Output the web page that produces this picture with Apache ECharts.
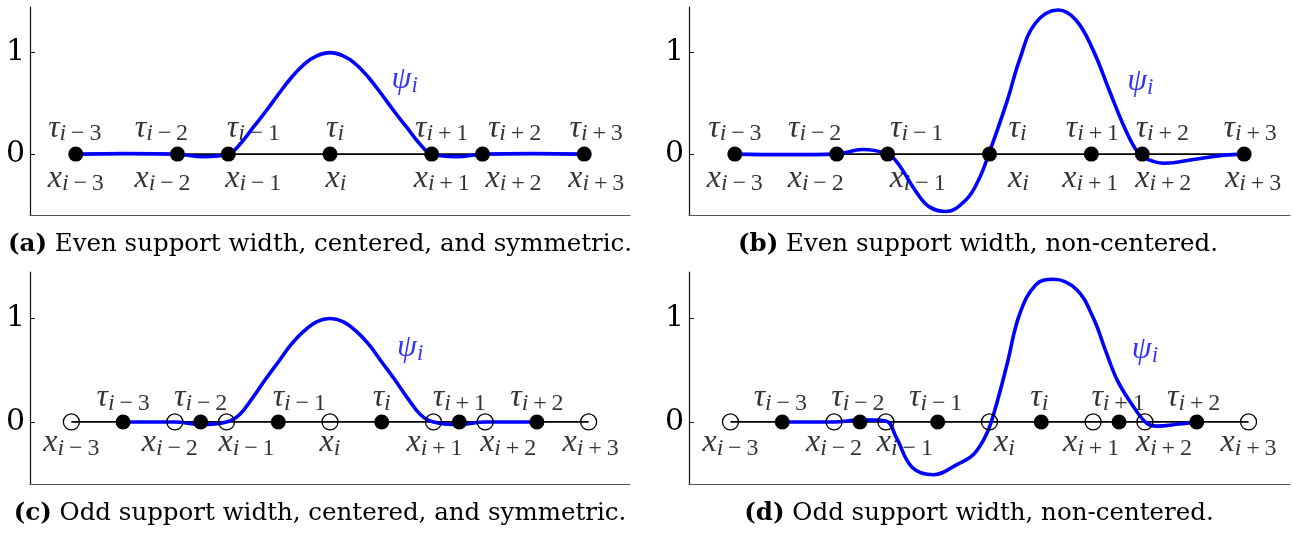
<!DOCTYPE html>
<html>
<head>
<meta charset="utf-8">
<script src="https://cdn.jsdelivr.net/npm/echarts@6/dist/echarts.min.js"></script>
<style>html,body{margin:0;padding:0;background:#fff;}#c{width:1293px;height:535px;}</style>
</head>
<body>
<div id="c"></div>
<script>
// ---- data ----
const knotX = [-5, -3, -2, 0, 2, 3, 5];             // x_{i-3} .. x_{i+3}
const evenTau = [-5, -3, -2, 0, 2, 3, 5];           // tau_{i-3} .. tau_{i+3} (even: at knots)
const oddTau = [-4, -2.5, -1, 1, 2.5, 4];           // tau_{i-3} .. tau_{i+2} (odd: midpoints)
const xSubs = ['i−3', 'i−2', 'i−1', 'i', 'i+1', 'i+2', 'i+3'];
const tauSubsEven = ['i−3', 'i−2', 'i−1', 'i', 'i+1', 'i+2', 'i+3'];
const tauSubsOdd = ['i−3', 'i−2', 'i−1', 'i', 'i+1', 'i+2'];
const yTicks = [0, 1];

const psiA = [[-5,0],[-4,0.005],[-3,0],[-2.5,-0.025],[-2,0],[-1.75,0.11],[-1.5,0.27],[-1.25,0.43],[-1,0.6],[-0.75,0.76],[-0.5,0.89],[-0.25,0.97],[0,1],[0.25,0.97],[0.5,0.89],[0.75,0.76],[1,0.6],[1.25,0.43],[1.5,0.27],[1.75,0.11],[2,0],[2.5,-0.025],[3,0],[4,0.005],[5,0]];
const psiB = [[-5,0],[-4,-0.005],[-3,0],[-2.5,0.045],[-2,0],[-1.8,-0.09],[-1.43,-0.38],[-1.18,-0.52],[-0.86,-0.565],[-0.46,-0.45],[-0.21,-0.25],[0,0.02],[0.35,0.53],[0.59,0.93],[0.9,1.29],[1.35,1.42],[1.7,1.32],[2.03,1.03],[2.35,0.63],[2.67,0.24],[2.92,0.01],[3.1,-0.05],[3.43,-0.09],[4.04,-0.05],[4.6,-0.01],[5,0]];
const psiC = [[-4,0],[-3.5,0],[-3,0],[-2.5,-0.025],[-2,0],[-1.75,0.07],[-1.5,0.23],[-1.25,0.41],[-1,0.58],[-0.75,0.75],[-0.5,0.88],[-0.25,0.97],[0,1],[0.25,0.97],[0.5,0.88],[0.75,0.75],[1,0.58],[1.25,0.41],[1.5,0.23],[1.75,0.07],[2,0],[2.5,-0.025],[3,0],[3.5,0],[4,0]];
const psiD = [[-4,0],[-3.5,0],[-3,0],[-2.5,0.02],[-2,0.01],[-1.8,-0.15],[-1.49,-0.44],[-1.08,-0.51],[-0.62,-0.41],[-0.3,-0.31],[-0.06,-0.12],[0.1,0.11],[0.34,0.56],[0.58,1.04],[0.9,1.33],[1.24,1.38],[1.68,1.28],[2.0,1.01],[2.24,0.69],[2.47,0.40],[2.79,0.14],[3.03,-0.01],[3.23,-0.04],[3.66,-0.02],[4,0]];

const captions = [
  ['(a)', ' Even support width, centered, and symmetric.'],
  ['(b)', ' Even support width, non-centered.'],
  ['(c)', ' Odd support width, centered, and symmetric.'],
  ['(d)', ' Odd support width, non-centered.']
];

// ---- layout (pixels / placement, not data) ----
const grids = [
  {left: 30, top: 7, width: 600, height: 208, xr: 5.9},
  {left: 689, top: 7, width: 601, height: 208, xr: 5.9},
  {left: 30, top: 272, width: 600, height: 212, xr: 5.8},
  {left: 689, top: 272, width: 601, height: 212, xr: 5.8}
];
const tauShift = [[-1,-16,25,5,10,32,12],[0,-22,29,28,1,20,6],[0,0,21,0,0,0],[-2,-2,-2,-2,-1,-3]];
const xShift = [[0,-15,25,6,10,31,12],[0,-21,30,29,-1,21,9],[0,-5,20,0,1,23,2],[0,0,19,15,-2,19,0]];
const tauDy = [-26, -26, -24, -24];
const xDy = [24, 24, 21, 21];
const psiPos = [[1.47,0.73],[2.96,0.71],[1.55,0.72],[3.0,0.70]];
const captionPos = [[320,245],[978,245],[320,514],[979,514]];

const SERIF = 'DejaVu Serif';
const MATH = 'Liberation Serif';
const rich = {
  m: {fontFamily: MATH, fontStyle: 'italic', fontSize: 32, color: '#000'},
  si: {fontFamily: MATH, fontStyle: 'italic', fontSize: 24, color: '#000', padding: [12,0,0,0]},
  sn: {fontFamily: MATH, fontSize: 24, color: '#000', padding: [12,0,0,0]},
  pm: {fontFamily: MATH, fontStyle: 'italic', fontSize: 32, color: '#0000ff'},
  ps: {fontFamily: MATH, fontStyle: 'italic', fontSize: 23, color: '#0000ff', padding: [12,0,0,0]}
};
function subText(s) {
  if (s === 'i') return '{si|i}';
  return '{si|i}{sn|\u2009' + s.slice(1, 2) + '\u2009' + s.slice(2) + '}';
}

const panels = [
  {psi: psiA, tau: evenTau, tauSubs: tauSubsEven, open: false},
  {psi: psiB, tau: evenTau, tauSubs: tauSubsEven, open: false},
  {psi: psiC, tau: oddTau, tauSubs: tauSubsOdd, open: true},
  {psi: psiD, tau: oddTau, tauSubs: tauSubsOdd, open: true}
];

const option = {
  animation: false,
  grid: [], xAxis: [], yAxis: [], series: [], graphic: []
};

panels.forEach((p, g) => {
  const G = grids[g];
  option.grid.push({left: G.left, top: G.top, width: G.width, height: G.height, containLabel: false});
  option.xAxis.push({
    type: 'value', gridIndex: g, min: -G.xr, max: G.xr,
    axisLine: {show: true, onZero: false, lineStyle: {color: '#555', width: 1.2}},
    axisTick: {show: false}, axisLabel: {show: false}, splitLine: {show: false}
  });
  option.yAxis.push({
    type: 'value', gridIndex: g, min: -0.6, max: 1.45,
    axisLine: {show: true, onZero: false, lineStyle: {color: '#111', width: 1.2}},
    axisTick: {show: true, inside: true, length: 5, customValues: yTicks, lineStyle: {color: '#111'}},
    axisLabel: {show: true, customValues: yTicks, fontFamily: SERIF, fontSize: 30, color: '#000', margin: 5},
    splitLine: {show: false}
  });
  // baseline
  option.series.push({
    type: 'line', xAxisIndex: g, yAxisIndex: g, silent: true, z: 2,
    data: [[knotX[0], 0], [knotX[knotX.length - 1], 0]],
    symbol: 'none', lineStyle: {color: '#000', width: 1.8}
  });
  // curve
  option.series.push({
    type: 'line', xAxisIndex: g, yAxisIndex: g, silent: true, z: 3,
    data: p.psi, smooth: 0.4, symbol: 'none',
    lineStyle: {color: '#0000ff', width: 3.6}
  });
  // open circles
  if (p.open) {
    option.series.push({
      type: 'scatter', xAxisIndex: g, yAxisIndex: g, silent: true, z: 4,
      data: knotX.map(v => [v, 0]), symbol: 'circle', symbolSize: 16,
      itemStyle: {color: 'rgba(0,0,0,0)', borderColor: '#000', borderWidth: 1.3, opacity: 1}
    });
  }
  // filled dots
  option.series.push({
    type: 'scatter', xAxisIndex: g, yAxisIndex: g, silent: true, z: 5,
    data: p.tau.map(v => [v, 0]), symbol: 'circle', symbolSize: 15,
    itemStyle: {color: '#000', opacity: 1}
  });
  // tau labels
  option.series.push({
    type: 'scatter', xAxisIndex: g, yAxisIndex: g, silent: true, z: 1,
    symbolSize: 1, itemStyle: {color: 'rgba(0,0,0,0)'},
    data: p.tau.map((v, k) => ({
      value: [v, 0],
      label: {show: true, position: 'inside', offset: [tauShift[g][k], tauDy[g]],
        formatter: '{m|τ}' + subText(p.tauSubs[k]), rich: rich}
    }))
  });
  // x labels
  option.series.push({
    type: 'scatter', xAxisIndex: g, yAxisIndex: g, silent: true, z: 1,
    symbolSize: 1, itemStyle: {color: 'rgba(0,0,0,0)'},
    data: knotX.map((v, k) => ({
      value: [v, 0],
      label: {show: true, position: 'inside', offset: [xShift[g][k], xDy[g]],
        formatter: '{m|x}' + subText(xSubs[k]), rich: rich}
    }))
  });
  // psi label
  option.series.push({
    type: 'scatter', xAxisIndex: g, yAxisIndex: g, silent: true, z: 1,
    symbolSize: 1, itemStyle: {color: 'rgba(0,0,0,0)'},
    data: [{value: psiPos[g], label: {show: true, position: 'inside', formatter: '{pm|ψ}{ps|i}', rich: rich}}]
  });
  // caption
  option.graphic.push({
    type: 'text', x: captionPos[g][0], y: captionPos[g][1], silent: true,
    style: {
      text: '{b|' + captions[g][0] + '}{r|' + captions[g][1] + '}',
      align: 'center', verticalAlign: 'middle', textAlign: 'center', textVerticalAlign: 'middle',
      rich: {
        b: {fontFamily: SERIF, fontSize: 24.5, fontWeight: 'bold', fill: '#000', color: '#000'},
        r: {fontFamily: SERIF, fontSize: 24.5, fill: '#000', color: '#000'}
      }
    }
  });
});

const chart = echarts.init(document.getElementById('c'), null, {renderer: 'canvas'});
chart.setOption(option);
</script>
</body>
</html>
